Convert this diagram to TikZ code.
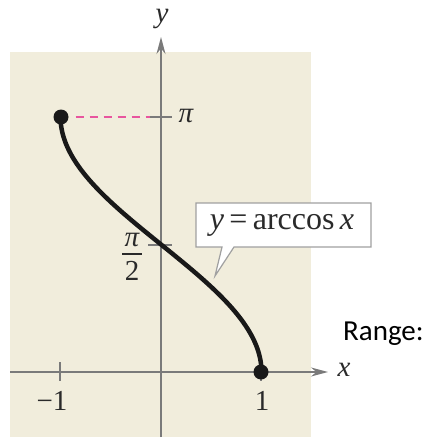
\documentclass[tikz,border=0pt]{standalone}
\usepackage{fontspec}
\setmainfont{Liberation Serif}
\newfontfamily\rangefont{Carlito}
\usetikzlibrary{arrows.meta}
\definecolor{beige}{HTML}{F1EDDC}
\definecolor{axisgray}{HTML}{7A7A7A}
\definecolor{labelcol}{HTML}{2A2A2A}
\definecolor{dashpink}{HTML}{E8559E}
\definecolor{boxgray}{HTML}{A0A0A0}
\tikzset{
  axisline/.style={draw=axisgray, line width=1.4pt},
  axisarrow/.style={axisline, -{Stealth[length=17pt, width=9pt]}},
  tickline/.style={draw=axisgray, line width=1.4pt},
  lbl/.style={text=labelcol, font=\fontsize{29}{32}\selectfont, inner sep=0pt},
  curveline/.style={line width=4.5pt, draw=black!90},
  enddot/.style={circle, fill=black!90, minimum size=15pt, inner sep=0pt},
  calloutbox/.style={draw=boxgray, fill=white, line width=1.2pt, line join=miter},
  eqtext/.style={text=labelcol, font=\fontsize{32}{34}\selectfont, inner sep=0pt},
  fracbar/.style={fill=labelcol, minimum width=20pt, minimum height=1.4pt, inner sep=0pt},
}
\begin{document}
\begin{tikzpicture}[x=1pt, y=-1pt]
\useasboundingbox (0,0) rectangle (433,439);
\fill[beige] (10,52) rectangle (311,437);
% axes
\coordinate (xs) at (10,372);
\coordinate (xe) at (328,372);
\coordinate (ys) at (161,437);
\coordinate (ye) at (161,37);
\draw[axisarrow] (xs) -- (xe);
\draw[axisarrow] (ys) -- (ye);
% ticks
\coordinate (tm1a) at (60,362); \coordinate (tm1b) at (60,381);
\coordinate (tp1a) at (261,362); \coordinate (tp1b) at (261,381);
\coordinate (tpia) at (150,117); \coordinate (tpib) at (172,117);
\coordinate (tp2a) at (148,245); \coordinate (tp2b) at (172,245);
\draw[tickline] (tm1a) -- (tm1b);
\draw[tickline] (tp1a) -- (tp1b);
\draw[tickline] (tpia) -- (tpib);
\draw[tickline] (tp2a) -- (tp2b);
% labels
\node[lbl, anchor=base] (ylab) at (162,22) {\itshape y};
\node[lbl] (xlab) at (344,370) {\itshape x};
\node[lbl] (m1) at (52,401) {−1};
\node[lbl] (p1) at (262,401) {1};
\node[lbl] (pil) at (186,116) {\itshape π};
\node[lbl] (pinum) at (132,240) {\itshape π};
\node[fracbar] (pibar) at (132,254) {};
\node[lbl] (piden) at (132,271) {2};
% dashed + end points
\node[enddot] (d1) at (61,117) {};
\node[enddot] (d2) at (261,372) {};
\draw[dashpink, line width=2pt, dash pattern=on 8pt off 6pt] (d1.east) ++(7,0) coordinate (dstart) -- (tpia);
% curve
\draw[curveline] plot[domain=0:180, samples=120, smooth] ({161+100.5*cos(\x)}, {372-(\x/57.29578)*81.2});
% callout
\coordinate (c1) at (196,203);
\coordinate (c2) at (371,203);
\coordinate (c3) at (371,247);
\coordinate (c4) at (234,247);
\coordinate (ptr) at (215,276);
\coordinate (c5) at (222,247);
\coordinate (c6) at (196,247);
\draw[calloutbox] (c1) -- (c2) -- (c3) -- (c4) -- (ptr) -- (c5) -- (c6) -- cycle;
\node[eqtext] (eq) at (282,225) {\itshape y\upshape\,=\,arccos\,\itshape x};
% range
\node[anchor=base west, inner sep=0pt, font=\rangefont\fontsize{29}{32}\selectfont] (rng) at (343,340) {Range:};
\end{tikzpicture}
\end{document}
